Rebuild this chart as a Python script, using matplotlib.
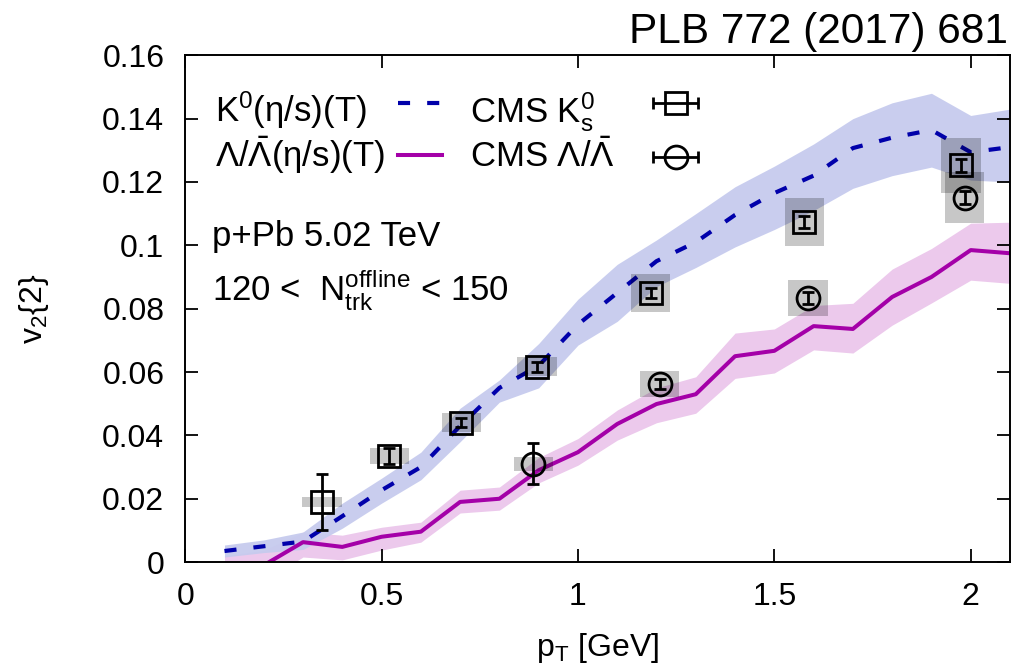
import numpy as np
import matplotlib
matplotlib.use("Agg")
import matplotlib.pyplot as plt

plt.rcParams['font.family'] = ['Liberation Sans', 'DejaVu Sans']
plt.rcParams['mathtext.fontset'] = 'custom'
plt.rcParams['mathtext.rm'] = 'Liberation Sans'
plt.rcParams['mathtext.it'] = 'Liberation Sans:italic'
plt.rcParams['mathtext.bf'] = 'Liberation Sans:bold'

# hydro curves, pT grid
pt = [0.1, 0.2, 0.3, 0.4, 0.5, 0.6, 0.7, 0.8, 0.9, 1.0, 1.1,
      1.2, 1.3, 1.4, 1.5, 1.6, 1.7, 1.8, 1.9, 2.0, 2.1]

k0_mid = [0.0035, 0.005, 0.0065, 0.0145, 0.0227, 0.030, 0.043, 0.055, 0.062, 0.075, 0.085,
          0.095, 0.101, 0.1096, 0.1165, 0.122, 0.1307, 0.134, 0.1364, 0.1294, 0.131]
k0_hi = [0.0054, 0.007, 0.0095, 0.0186, 0.0265, 0.0347, 0.0486, 0.0575, 0.069, 0.083, 0.094,
         0.1017, 0.110, 0.1185, 0.125, 0.132, 0.140, 0.145, 0.148, 0.141, 0.143]
k0_lo = [0.0016, 0.003, 0.004, 0.0107, 0.0186, 0.026, 0.038, 0.0505, 0.055, 0.0685, 0.076,
         0.087, 0.093, 0.0995, 0.105, 0.111, 0.118, 0.122, 0.1247, 0.1206, 0.120]

lam_mid = [-0.006, -0.001, 0.0063, 0.0048, 0.008, 0.0096, 0.019, 0.020, 0.029, 0.0347, 0.0436,
           0.0499, 0.053, 0.065, 0.0667, 0.0745, 0.0736, 0.0837, 0.090, 0.0985, 0.0975]
lam_hi = [0.002, 0.0038, 0.0095, 0.0085, 0.011, 0.0126, 0.0227, 0.0237, 0.033, 0.039, 0.048,
          0.055, 0.0585, 0.0723, 0.0736, 0.081, 0.0817, 0.0925, 0.099, 0.107, 0.1073]
lam_lo = [-0.012, -0.006, 0.0016, 0.0007, 0.0038, 0.0063, 0.0155, 0.0164, 0.025, 0.0306, 0.0385,
          0.044, 0.047, 0.058, 0.0597, 0.067, 0.066, 0.0748, 0.0818, 0.089, 0.088]

# CMS data
cms_k_pt = [0.348, 0.52, 0.703, 0.896, 1.185, 1.576, 1.975]
cms_k_v2 = [0.019, 0.0335, 0.044, 0.0616, 0.085, 0.1074, 0.1253]
cms_k_err = [0.0088, 0.0025, 0.0015, 0.0015, 0.0015, 0.002, 0.002]
cms_k_sys = [0.0016, 0.0024, 0.003, 0.003, 0.0059, 0.0075, 0.0087]

cms_l_pt = [0.886, 1.208, 1.586, 1.985]
cms_l_v2 = [0.031, 0.0562, 0.0834, 0.115]
cms_l_err = [0.0065, 0.0015, 0.0018, 0.002]
cms_l_sys = [0.0022, 0.004, 0.0058, 0.008]

BLUE = '#0000aa'
MAG = '#a400a8'
BLUE_BAND = '#c6cbee'
PINK_BAND = '#ecc9ec'

fig = plt.figure(figsize=(10.12, 6.66), dpi=100)
ax = fig.add_axes([0.183, 0.156, 0.815, 0.761])

ax.fill_between(pt, lam_lo, lam_hi, color=PINK_BAND, lw=0, zorder=1)
ax.fill_between(pt, k0_lo, k0_hi, color=BLUE_BAND, lw=0, alpha=0.95, zorder=1.1)
ax.plot(pt, lam_mid, color=MAG, lw=2.9, zorder=2)
ax.plot(pt, k0_mid, color=BLUE, lw=3.0, dashes=(2.9, 4.1), zorder=2.1)

# systematic boxes
ks = np.array(cms_k_sys)
ls = np.array(cms_l_sys)
ax.bar(cms_k_pt, 2 * ks, width=0.1, bottom=np.array(cms_k_v2) - ks,
       color='black', alpha=0.22, lw=0, zorder=3)
ax.bar(cms_l_pt, 2 * ls, width=0.1, bottom=np.array(cms_l_v2) - ls,
       color='black', alpha=0.22, lw=0, zorder=3)

ax.errorbar(cms_k_pt, cms_k_v2, yerr=cms_k_err, fmt='s', ms=16, mfc='none',
            mec='black', mew=2.0, ecolor='black', elinewidth=2.0, capsize=4.3,
            capthick=2.0, zorder=4)
ax.errorbar(cms_l_pt, cms_l_v2, yerr=cms_l_err, fmt='o', ms=16.5, mfc='none',
            mec='black', mew=2.0, ecolor='black', elinewidth=2.0, capsize=4.3,
            capthick=2.0, zorder=4)

ax.set_xlim(0, 2.1)
ax.set_ylim(0, 0.16)
ax.set_xticks([0, 0.5, 1, 1.5, 2])
ax.set_xticklabels(['0', '0.5', '1', '1.5', '2'])
ax.set_yticks([0, 0.02, 0.04, 0.06, 0.08, 0.1, 0.12, 0.14, 0.16])
ax.set_yticklabels(['0', '0.02', '0.04', '0.06', '0.08', '0.1', '0.12', '0.14', '0.16'])
ax.tick_params(direction='in', length=9.5, width=1.3, top=True, right=True,
               labelsize=23)
ax.tick_params(axis='x', pad=14)
ax.tick_params(axis='y', pad=15)
for s in ax.spines.values():
    s.set_linewidth(1.4)

ax.set_xlabel(r'$\mathrm{p_T}$ [GeV]', fontsize=23, labelpad=14)
ax.set_ylabel(r'v$_2${2}', fontsize=23, labelpad=37)

# legend drawn by hand (gnuplot style)
fs = 25
ax.text(0.0364, 0.868, r'K$^0$(η/s)(T)', transform=ax.transAxes, fontsize=fs, va='baseline')
ax.text(0.0364, 0.779, r'Λ/$\bar{\Lambda}$(η/s)(T)', transform=ax.transAxes, fontsize=fs, va='baseline')
ax.plot([0.258, 0.309], [0.905, 0.905], transform=ax.transAxes, color=BLUE, lw=3.0,
        dashes=(2.9, 4.1))
ax.plot([0.258, 0.3115], [0.803, 0.803], transform=ax.transAxes, color=MAG, lw=2.9)
ax.text(0.3455, 0.868, r'CMS K$_\mathrm{s}^0$', transform=ax.transAxes, fontsize=fs, va='baseline')
ax.text(0.3455, 0.779, r'CMS Λ/$\bar{\Lambda}$', transform=ax.transAxes, fontsize=fs, va='baseline')
ax.errorbar([0.595], [0.905], xerr=[0.0273], transform=ax.transAxes, fmt='s', ms=16,
            mfc='none', mec='black', mew=2.0, ecolor='black', elinewidth=2.0,
            capsize=4.3, capthick=2.0, clip_on=False)
ax.errorbar([0.595], [0.799], xerr=[0.0273], transform=ax.transAxes, fmt='o', ms=16.5,
            mfc='none', mec='black', mew=2.0, ecolor='black', elinewidth=2.0,
            capsize=4.3, capthick=2.0, clip_on=False)

ax.text(0.0327, 0.623, 'p+Pb 5.02 TeV', transform=ax.transAxes, fontsize=fs, va='baseline')
ax.text(0.0327, 0.517, r'120 <  $\mathrm{N_{trk}^{offline}}$ < 150', transform=ax.transAxes,
        fontsize=fs, va='baseline')

fig.text(0.996, 0.952, 'PLB 772 (2017) 681', ha='right', va='center', fontsize=30.5)

fig.savefig('out.png', dpi=100)
